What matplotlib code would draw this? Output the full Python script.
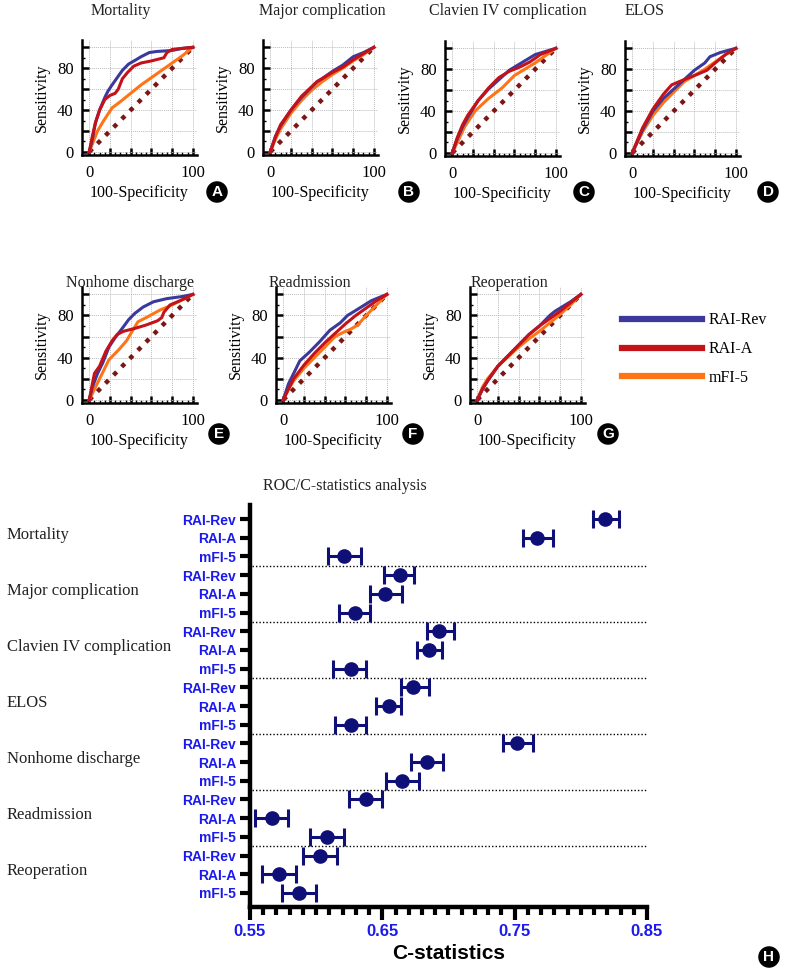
import matplotlib
matplotlib.use("Agg")
import matplotlib.pyplot as plt
import numpy as np

# ---------------- ROC data (100-specificity, sensitivity) ----------------
roc_titles = ["Mortality", "Major complication", "Clavien IV complication", "ELOS",
              "Nonhome discharge", "Readmission", "Reoperation"]
roc_letters = ["A", "B", "C", "D", "E", "F", "G"]

rai_rev_x = [
    [0, 3, 6, 10, 15, 18, 22, 27, 32, 38, 45, 50, 58, 65, 80, 90, 100],
    [0, 5, 10, 20, 30, 40, 45, 50, 60, 70, 80, 90, 100],
    [0, 5, 10, 15, 25, 35, 45, 55, 65, 80, 90, 100],
    [0, 5, 10, 20, 30, 40, 50, 60, 70, 75, 85, 100],
    [0, 3, 8, 13, 19, 25, 32, 38, 44, 52, 62, 75, 90, 100],
    [0, 5, 10, 16, 25, 35, 45, 55, 62, 72, 85, 100],
    [0, 5, 10, 20, 30, 40, 50, 60, 70, 75, 80, 90, 100],
]
rai_rev_y = [
    [0, 12, 28, 40, 52, 58, 64, 71, 78, 84, 88, 91, 95, 96, 97, 99, 100],
    [0, 15, 25, 40, 52, 62, 67, 70, 77, 83, 91, 95, 100],
    [0, 14, 25, 34, 50, 61, 70, 79, 85, 94, 97, 100],
    [0, 11, 22, 40, 52, 61, 70, 79, 86, 92, 96, 100],
    [0, 12, 25, 35, 50, 59, 68, 76, 82, 88, 93, 96, 98, 100],
    [0, 15, 25, 37, 45, 55, 66, 73, 80, 86, 94, 100],
    [0, 10, 18, 32, 42, 52, 62, 70, 80, 84, 87, 93, 100],
]
rai_a_x = [
    [0, 3, 6, 10, 15, 20, 25, 28, 32, 37, 43, 50, 60, 72, 75, 80, 90, 100],
    [0, 5, 10, 20, 30, 45, 60, 70, 80, 90, 100],
    [0, 5, 10, 15, 25, 35, 45, 55, 65, 75, 85, 100],
    [0, 5, 10, 20, 30, 38, 45, 55, 65, 72, 80, 90, 100],
    [0, 3, 5, 10, 16, 22, 27, 33, 45, 55, 66, 70, 72, 78, 90, 100],
    [0, 5, 10, 20, 30, 40, 50, 60, 70, 80, 90, 100],
    [0, 5, 10, 20, 30, 40, 50, 60, 70, 80, 90, 100],
]
rai_a_y = [
    [0, 15, 28, 40, 50, 54, 56, 60, 70, 76, 82, 85, 87, 90, 95, 98, 99, 100],
    [0, 14, 26, 40, 53, 67, 76, 81, 88, 94, 100],
    [0, 15, 27, 36, 50, 62, 72, 78, 82, 87, 94, 100],
    [0, 12, 24, 42, 56, 65, 68, 72, 76, 79, 86, 94, 100],
    [0, 15, 25, 32, 46, 56, 62, 65, 68, 71, 75, 78, 83, 90, 95, 100],
    [0, 10, 20, 33, 44, 54, 63, 72, 80, 87, 94, 100],
    [0, 10, 18, 32, 42, 52, 62, 70, 77, 84, 92, 100],
]
mfi5_x = [
    [0, 4, 8, 14, 22, 30, 40, 50, 60, 70, 80, 90, 100],
    [0, 5, 10, 20, 30, 40, 50, 60, 70, 80, 90, 100],
    [0, 5, 12, 22, 35, 48, 60, 70, 80, 90, 100],
    [0, 5, 10, 20, 30, 40, 50, 60, 70, 80, 90, 100],
    [0, 5, 10, 19, 28, 36, 42, 47, 55, 68, 80, 90, 100],
    [0, 5, 10, 20, 30, 40, 50, 58, 65, 72, 80, 90, 100],
    [0, 5, 10, 20, 30, 40, 50, 60, 70, 80, 90, 100],
]
mfi5_y = [
    [0, 10, 20, 30, 42, 48, 56, 64, 71, 78, 85, 92, 100],
    [0, 12, 22, 37, 49, 59, 67, 74, 80, 87, 93, 100],
    [0, 10, 25, 40, 52, 62, 74, 80, 86, 93, 100],
    [0, 10, 20, 36, 48, 58, 68, 74, 80, 87, 94, 100],
    [0, 10, 20, 38, 47, 56, 66, 74, 78, 85, 90, 95, 100],
    [0, 10, 18, 30, 40, 50, 60, 64, 67, 71, 80, 90, 100],
    [0, 12, 20, 32, 41, 50, 58, 65, 73, 81, 90, 100],
]

series_names = ["RAI-Rev", "RAI-A", "mFI-5"]
series_colors = ["#3b3a9c", "#c4121a", "#ff7417"]
diag_color = "#7b1616"

# ---------------- C-statistics data ----------------
outcomes = ["Mortality", "Major complication", "Clavien IV complication", "ELOS",
            "Nonhome discharge", "Readmission", "Reoperation"]
c_est = [0.818, 0.767, 0.621,
         0.663, 0.652, 0.629,
         0.693, 0.685, 0.626,
         0.673, 0.655, 0.626,
         0.752, 0.684, 0.665,
         0.638, 0.567, 0.608,
         0.603, 0.572, 0.587]
c_low = [0.809, 0.756, 0.609,
         0.651, 0.641, 0.617,
         0.684, 0.676, 0.613,
         0.664, 0.645, 0.614,
         0.741, 0.672, 0.653,
         0.625, 0.554, 0.595,
         0.590, 0.559, 0.574]
c_high = [0.829, 0.779, 0.634,
          0.674, 0.665, 0.641,
          0.704, 0.695, 0.638,
          0.685, 0.664, 0.638,
          0.764, 0.696, 0.678,
          0.650, 0.579, 0.621,
          0.616, 0.585, 0.600]
c_ticks = [0.55, 0.65, 0.75, 0.85]

W, H = 786, 968
fig = plt.figure(figsize=(W / 100, H / 100), dpi=100)
serif = "Liberation Serif"
sans = "Liberation Sans"


def px_axes(left, top, right, bottom):
    return fig.add_axes([left / W, 1 - bottom / H, (right - left) / W, (bottom - top) / H])


def badge(x, y, letter):
    fig.text(x / W, 1 - y / H, letter, ha="center", va="center", color="white",
             fontsize=11, fontweight="bold", family=sans,
             bbox=dict(boxstyle="circle,pad=0.2", fc="black", ec="black"))


# panel boxes: left spine, top, right, bottom spine (pixels)
boxes = [(82, 40, 197, 155), (263, 40, 378, 155), (445, 41, 560, 156), (625, 41, 740, 156),
         (82, 287, 197, 403), (276, 287, 391, 403), (470, 287, 585, 403)]
title_pos = [(121, 11), (322, 11), (508, 11), (645, 11), (130, 283), (310, 283), (509, 283)]
badge_pos = [(217, 192), (409, 192), (584, 192), (768, 192), (219, 434), (413, 434), (608, 434)]

for i in range(7):
    ax = px_axes(*boxes[i])
    ax.plot([0, 100], [0, 100], linestyle=(0, (1, 1.6)), color=diag_color, lw=3.2, zorder=2)
    ax.plot(mfi5_x[i], mfi5_y[i], color=series_colors[2], lw=2.2, zorder=3)
    ax.plot(rai_a_x[i], rai_a_y[i], color=series_colors[1], lw=2.2, zorder=4)
    ax.plot(rai_rev_x[i], rai_rev_y[i], color=series_colors[0], lw=2.2, zorder=3.5)
    ax.set_xlim(-7, 104)
    ax.set_ylim(-3, 107)
    ax.set_xticks(np.arange(0, 101, 20))
    ax.set_yticks(np.arange(0, 101, 20))
    ax.set_xticks(np.arange(0, 101, 5), minor=True)
    ax.set_yticks(np.arange(0, 101, 10), minor=True)
    ax.set_xticklabels(["0", "", "", "", "", "100"], family=serif, fontsize=12)
    ax.set_yticklabels(["0", "", "40", "", "80", ""], family=serif, fontsize=12)
    ax.tick_params(which="major", direction="in", length=5, width=1.8)
    ax.tick_params(axis="x", which="major", pad=7)
    ax.tick_params(axis="y", which="major", pad=6)
    ax.tick_params(which="minor", direction="in", length=2.5, width=1.0)
    ax.grid(True, which="major", color="#bbbbbb", linestyle=(0, (1, 1)), lw=0.7)
    for s in ["top", "right"]:
        ax.spines[s].set_visible(False)
    for s in ["left", "bottom"]:
        ax.spines[s].set_linewidth(1.8)
    ax.set_xlabel("100-Specificity", family=serif, fontsize=11.5, labelpad=3)
    ax.set_ylabel("Sensitivity", family=serif, fontsize=11.5, labelpad=5)
    tx, ty = title_pos[i]
    fig.text(tx / W, 1 - ty / H, roc_titles[i], ha="center", va="center",
             family=serif, fontsize=11.5, color="#222222")
    badge(*badge_pos[i], roc_letters[i])

# legend
handles = [plt.Line2D([], [], color=c, lw=4.5) for c in series_colors]
fig.legend(handles, series_names, loc="upper left", bbox_to_anchor=(608 / W, 1 - 298 / H),
           frameon=False, handlelength=5.0, handletextpad=0.4, labelspacing=0.8,
           prop={"family": serif, "size": 11.5})

# ---------------- forest plot ----------------
axf = px_axes(250, 505, 647, 907)
rows = np.arange(len(c_est))
navy = "#0f0f78"
blue = "#1a1aee"
xerr = [np.array(c_est) - np.array(c_low), np.array(c_high) - np.array(c_est)]
axf.errorbar(c_est, rows, xerr=xerr, fmt="o", color=navy, ms=9.5, elinewidth=2.2,
             capsize=6.5, capthick=2.2, zorder=3)
for g in range(1, len(outcomes)):
    axf.axhline(3 * g - 0.5, color="black", linestyle=(0, (1, 1.5)), lw=1.0, xmin=0.005)
axf.set_xlim(0.55, 0.85)
axf.set_ylim(20.75, -0.75)
axf.set_yticks(rows)
axf.set_yticklabels(series_names * len(outcomes), color=blue, fontweight="bold",
                    family=sans, fontsize=10)
axf.set_xticks(c_ticks)
axf.set_xticklabels(["0.55", "0.65", "0.75", "0.85"], color=blue, fontweight="bold",
                    family=sans, fontsize=12)
axf.set_xticks(np.arange(0.55, 0.8501, 0.01), minor=True)
axf.tick_params(axis="y", direction="out", length=7, width=3, pad=3)
axf.tick_params(axis="x", which="major", direction="out", length=9, width=3, pad=3)
axf.tick_params(axis="x", which="minor", direction="out", length=6, width=3)
for s in ["top", "right"]:
    axf.spines[s].set_visible(False)
for s in ["left", "bottom"]:
    axf.spines[s].set_linewidth(3.2)
axf.set_xlabel("C-statistics", fontsize=15, fontweight="bold", family=sans, labelpad=4)

fig.text(345 / W, 1 - 486 / H, "ROC/C-statistics analysis", ha="center", va="center",
         family=serif, fontsize=11.5, color="#222222")
for g, name in enumerate(outcomes):
    ypix = 519 + (3 * g + 0.85) * 18.7
    fig.text(7 / W, 1 - ypix / H, name, ha="left", va="center", family=serif,
             fontsize=12, color="#222222")
badge(769, 957, "H")

fig.savefig("out.png", dpi=100)
